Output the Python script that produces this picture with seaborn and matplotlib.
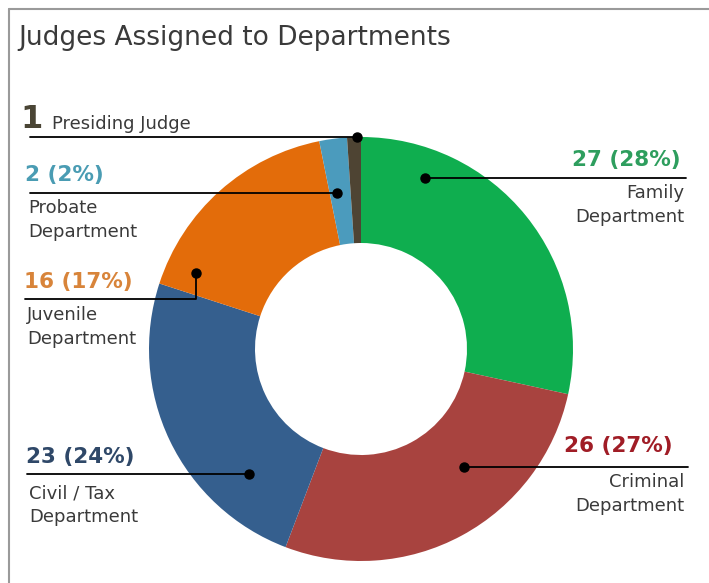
import numpy as np
import matplotlib
matplotlib.use("Agg")
import matplotlib.pyplot as plt
import seaborn as sns

# data
departments = ["Family\nDepartment", "Criminal\nDepartment", "Civil / Tax\nDepartment",
               "Juvenile\nDepartment", "Probate\nDepartment", "Presiding Judge"]
judges = [27, 26, 23, 16, 2, 1]
percents = [28, 27, 24, 17, 2, None]
wedge_colors = ["#0fae4f", "#a8433f", "#355f8e", "#e36c0a", "#4b9bbd", "#4e4433"]
label_colors = ["#2e9e5e", "#a01d26", "#2f4868", "#d8843a", "#4a9cb3", "#4a4535"]

sns.set_theme(style="white")
plt.rcParams["font.family"] = ["DejaVu Sans"]

W, H = 709, 583
fig = plt.figure(figsize=(W / 100, H / 100), dpi=100)
ax = fig.add_axes([0, 0, 1, 1])

def Y(y):
    # pixel row (from top) -> axes y
    return H - y

cx, cy, R = 361, Y(349), 212
ring = 0.5

wedges, _ = ax.pie(judges, colors=wedge_colors, startangle=90, counterclock=False,
                   radius=R, center=(cx, cy),
                   wedgeprops=dict(width=R * ring, edgecolor="none", linewidth=0))

# where each leader dot sits inside its wedge (fraction from wedge start, radius)
dot_frac = [0.2, 0.37, 0.24, 0.11, 0.36, 0.74]
dot_rad = [182, 157, 168, 182, 158, 212]
# end of leader line (x in px) and line row (y in px)
line_end_x = [686, 688, 27, 25, 30, 30]
line_y = [177, 465, 474, 299, 192, 135]

for i, w in enumerate(wedges):
    a = np.deg2rad(w.theta1 + (w.theta2 - w.theta1) * (1 - dot_frac[i]))
    dx = cx + dot_rad[i] * np.cos(a)
    dy = cy + dot_rad[i] * np.sin(a)
    ly = Y(line_y[i])
    if abs(dy - ly) > 3:
        ax.plot([dx, dx, line_end_x[i]], [dy, ly, ly], color="black", lw=1.3)
    else:
        ax.plot([dx, line_end_x[i]], [dy, dy], color="black", lw=1.3)
    ax.plot(dx, dy, "o", color="black", ms=6.5)

value_kw = dict(fontsize=15.5, fontweight="bold")
name_kw = dict(fontsize=13, color="#3a3a3a", linespacing=1.45)

# right side labels
for i, (vx, vy, ny) in zip([0, 1], [(681, 160, 184), (673, 446, 473)]):
    ax.text(vx, Y(vy), f"{judges[i]} ({percents[i]}%)", color=label_colors[i],
            ha="right", va="center", **value_kw)
    ax.text(684, Y(ny), departments[i], ha="right", va="top", **name_kw)

# left side labels
for i, (vx, vy, ny) in zip([2, 3, 4], [(26, 457, 484), (24, 282, 306), (25, 175, 199)]):
    ax.text(vx, Y(vy), f"{judges[i]} ({percents[i]}%)", color=label_colors[i],
            ha="left", va="center", **value_kw)
    ax.text(vx + 3, Y(ny), departments[i], ha="left", va="top", **name_kw)

ax.text(20, Y(120), f"{judges[5]}", color=label_colors[5], ha="left", va="center",
        fontsize=23, fontweight="bold")
ax.text(52, Y(124), departments[5], ha="left", va="center", fontsize=13, color="#3a3a3a")

ax.text(18, Y(38), "Judges Assigned to Departments", ha="left", va="center",
        fontsize=19, color="#3a3a3a")

# frame lines (left and top)
ax.plot([9, 9], [0, Y(9)], color="#9a9a9a", lw=1.5)
ax.plot([9, W], [Y(9), Y(9)], color="#9a9a9a", lw=1.5)

ax.set_xlim(0, W)
ax.set_ylim(0, H)
ax.set_aspect("equal")
ax.axis("off")

fig.savefig("out.png", dpi=100)
